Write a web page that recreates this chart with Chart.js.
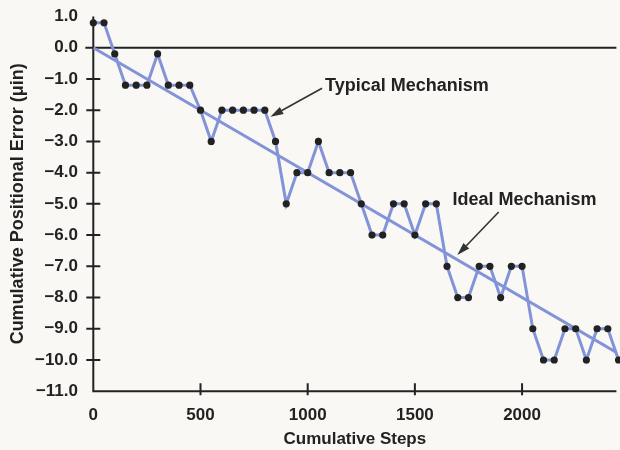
<!DOCTYPE html>
<html>
<head>
<meta charset="utf-8">
<script src="https://cdn.jsdelivr.net/npm/chart.js@4.4.1/dist/chart.umd.min.js"></script>
<style>
  html, body { margin: 0; padding: 0; background: #f9f8f5; }
  #wrap { width: 620px; height: 450px; }
</style>
</head>
<body>
<div id="wrap"><canvas id="c" width="620" height="450"></canvas></div>
<script>
// ---- data ----
const steps = [0, 50, 100, 150, 200, 250, 300, 350, 400, 450,
               500, 550, 600, 650, 700, 750, 800, 850, 900, 950,
               1000, 1050, 1100, 1150, 1200, 1250, 1300, 1350, 1400, 1450,
               1500, 1550, 1600, 1650, 1700, 1750, 1800, 1850, 1900, 1950,
               2000, 2050, 2100, 2150, 2200, 2250, 2300, 2350, 2400, 2450];
const typicalError = [0.8, 0.8, -0.2, -1.2, -1.2, -1.2, -0.2, -1.2, -1.2, -1.2,
                      -2, -3, -2, -2, -2, -2, -2, -3, -5, -4,
                      -4, -3, -4, -4, -4, -5, -6, -6, -5, -5,
                      -6, -5, -5, -7, -8, -8, -7, -7, -8, -7,
                      -7, -9, -10, -10, -9, -9, -10, -9, -9, -10];
const idealSteps = [0, 2500];
const idealError = [0, -10];
const xTickValues = [0, 500, 1000, 1500, 2000];
const yTickValues = [1, 0, -1, -2, -3, -4, -5, -6, -7, -8, -9, -10, -11];
const xTickMarks = [500, 1000, 1500, 2000];
const yTickMarks = [-1, -2, -3, -4, -5, -6, -7, -8, -9, -10];

// ---- styling ----
const INK = '#222222';
const BLUE = '#8393d8';
const FONT = '"Liberation Sans", Arial, Helvetica, sans-serif';

function fmtY(v) {
  const s = Math.abs(v).toFixed(1);
  return v < 0 ? '\u2212' + s : s;
}

const frame = {
  id: 'frame',
  beforeDatasetsDraw(chart) {
    const { ctx, scales: { x, y }, chartArea: a } = chart;
    ctx.save();
    ctx.strokeStyle = INK;
    ctx.lineWidth = 2;
    const x0 = x.getPixelForValue(0);
    const yb = y.getPixelForValue(y.min);
    const yt = y.getPixelForValue(y.max);
    const yz = y.getPixelForValue(0);
    ctx.beginPath();
    ctx.moveTo(x0, yt); ctx.lineTo(x0, yb); ctx.lineTo(a.right, yb);
    ctx.moveTo(x0 - 8, yz); ctx.lineTo(a.right, yz);
    yTickMarks.forEach(v => { const p = y.getPixelForValue(v); ctx.moveTo(x0 - 7, p); ctx.lineTo(x0 + 7, p); });
    xTickMarks.forEach(v => { const p = x.getPixelForValue(v); ctx.moveTo(p, yb - 8); ctx.lineTo(p, yb + 4); });
    ctx.stroke();
    ctx.restore();
  }
};

const callouts = {
  id: 'callouts',
  afterDatasetsDraw(chart, args, opts) {
    const { ctx, scales: { x, y } } = chart;
    ctx.save();
    (opts.items || []).forEach(it => {
      ctx.font = 'bold 18px ' + FONT;
      ctx.fillStyle = INK;
      ctx.textBaseline = 'middle';
      ctx.textAlign = 'left';
      ctx.fillText(it.text, x.getPixelForValue(it.at[0]), y.getPixelForValue(it.at[1]));
      const sx = x.getPixelForValue(it.from[0]), sy = y.getPixelForValue(it.from[1]);
      const tx = x.getPixelForValue(it.to[0]), ty = y.getPixelForValue(it.to[1]);
      const ang = Math.atan2(ty - sy, tx - sx);
      const L = 13, W = 4;
      const bx = tx - L * Math.cos(ang), by = ty - L * Math.sin(ang);
      ctx.strokeStyle = '#333';
      ctx.lineWidth = 1.6;
      ctx.beginPath(); ctx.moveTo(sx, sy); ctx.lineTo(bx, by); ctx.stroke();
      ctx.fillStyle = '#333';
      ctx.beginPath();
      ctx.moveTo(tx, ty);
      ctx.lineTo(bx - W * Math.sin(ang), by + W * Math.cos(ang));
      ctx.lineTo(bx + W * Math.sin(ang), by - W * Math.cos(ang));
      ctx.closePath();
      ctx.fill();
    });
    ctx.restore();
  }
};

new Chart(document.getElementById('c'), {
  type: 'scatter',
  data: {
    datasets: [
      {
        label: 'Typical Mechanism',
        data: steps.map((s, i) => ({ x: s, y: typicalError[i] })),
        showLine: true,
        borderColor: BLUE,
        borderWidth: 3,
        tension: 0,
        pointRadius: 3.6,
        pointHoverRadius: 3.6,
        pointBackgroundColor: INK,
        pointBorderWidth: 0,
        clip: false
      },
      {
        label: 'Ideal Mechanism',
        data: idealSteps.map((s, i) => ({ x: s, y: idealError[i] })),
        showLine: true,
        borderColor: BLUE,
        borderWidth: 3,
        pointRadius: 0,
        pointHoverRadius: 0
      }
    ]
  },
  options: {
    responsive: false,
    animation: false,
    devicePixelRatio: 1,
    events: [],
    layout: { padding: { top: 16.5, right: 0, bottom: 0, left: 0 } },
    plugins: {
      legend: { display: false },
      tooltip: { enabled: false },
      callouts: {
        items: [
          { text: 'Typical Mechanism', at: [1081, -1.23], from: [1067, -1.30], to: [826, -2.21] },
          { text: 'Ideal Mechanism', at: [1675, -4.88], from: [1891, -5.26], to: [1698, -6.64] }
        ]
      }
    },
    scales: {
      x: {
        type: 'linear', min: 0, max: 2440,
        grid: { display: false, drawTicks: false },
        border: { display: false },
        afterBuildTicks: s => { s.ticks = xTickValues.map(v => ({ value: v })); },
        afterFit: s => { s.height = 58.8; s.paddingLeft = 0; s.paddingRight = 0; },
        ticks: {
          autoSkip: false, maxRotation: 0, padding: 13.6, color: INK,
          font: { family: FONT, size: 17, weight: 'bold' },
          callback: v => String(v)
        },
        title: {
          display: true, text: 'Cumulative Steps', color: INK,
          font: { family: FONT, size: 17, weight: 'bold' },
          padding: { top: 0, bottom: 0.8 }
        }
      },
      y: {
        type: 'linear', min: -11, max: 1,
        grid: { display: false, drawTicks: false },
        border: { display: false },
        afterBuildTicks: s => { s.ticks = yTickValues.map(v => ({ value: v })); },
        afterFit: s => { s.width = 93.3; s.paddingTop = 0; s.paddingBottom = 0; },
        ticks: {
          padding: 15.3, color: INK,
          font: { family: FONT, size: 17, weight: 'bold' },
          callback: v => fmtY(v)
        },
        title: {
          display: true, text: 'Cumulative Positional Error (\u03bcin)', color: INK,
          font: { family: FONT, size: 18, weight: 'bold' },
          padding: { top: 7.2, bottom: 0 }
        }
      }
    }
  },
  plugins: [frame, callouts]
});
</script>
</body>
</html>
